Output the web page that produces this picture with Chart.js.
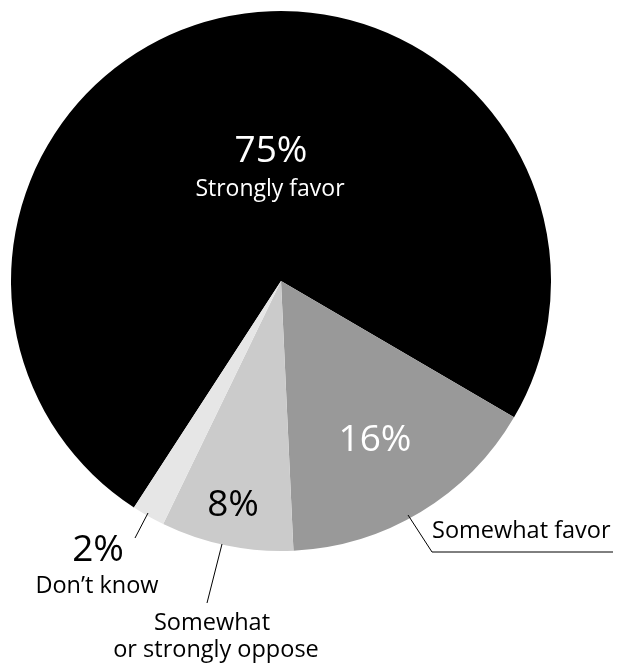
<!DOCTYPE html>
<html>
<head>
<meta charset="utf-8">
<script src="https://cdn.jsdelivr.net/npm/chart.js@4"></script>
<style>
	html, body { margin: 0; padding: 0; background: #fff; }
	#wrap { width: 618px; height: 668px; position: relative; }
</style>
</head>
<body>
<div id="wrap"><canvas id="pieChart" width="618" height="668"></canvas></div>
<script>
// Chart data
const categories = ["Strongly favor", "Somewhat favor", "Somewhat or strongly oppose", "Don’t know"];
const shares = [75, 16, 8, 2];
const sliceColors = ["#000000", "#999999", "#cbcbcb", "#e6e6e6"];

const FONT = "'Open Sans', 'Noto Sans', sans-serif";

// Label layout (text + leader lines), drawn after the pie
const labelLayout = [
	{ lines: [["75%", 37, 271, 151], ["Strongly favor", 23, 270, 189]], color: "#fff" },
	{ lines: [["16%", 37, 375, 440]], color: "#fff" },
	{ lines: [["8%", 37, 233, 505]], color: "#000" },
	{ lines: [["2%", 37, 98, 550], ["Don’t know", 23.5, 97, 586]], color: "#000",
		leader: [[148, 513], [135, 538]] },
	{ lines: [["Somewhat", 23.5, 212, 623], ["or strongly oppose", 23.5, 216, 650]], color: "#000",
		leader: [[222, 544], [207, 603]] },
	{ lines: [["Somewhat favor", 23.5, 432, 531, "left"]], color: "#000",
		leader: [[408, 515], [432, 552], [613, 552]] },
];

const labelPlugin = {
	id: "pieLabels",
	afterDraw(chart) {
		const ctx = chart.ctx;
		ctx.save();
		labelLayout.forEach(function (item) {
			if (item.leader) {
				ctx.beginPath();
				ctx.strokeStyle = "#000";
				ctx.lineWidth = 1;
				item.leader.forEach(function (p, i) {
					if (i === 0) ctx.moveTo(p[0], p[1]);
					else ctx.lineTo(p[0], p[1]);
				});
				ctx.stroke();
			}
			item.lines.forEach(function (l) {
				ctx.font = l[1] + "px " + FONT;
				ctx.fillStyle = item.color;
				ctx.textAlign = l[4] || "center";
				ctx.textBaseline = "middle";
				ctx.fillText(l[0], l[2], l[3]);
			});
		});
		ctx.restore();
	},
};

const ctx = document.getElementById("pieChart").getContext("2d");
new Chart(ctx, {
	type: "pie",
	data: {
		labels: categories,
		datasets: [
			{
				data: shares,
				backgroundColor: sliceColors,
				borderWidth: 0,
			},
		],
	},
	options: {
		responsive: false,
		animation: false,
		rotation: 213,
		layout: {
			padding: { left: 11, top: 11, right: 67, bottom: 117 },
		},
		plugins: {
			legend: { display: false },
			tooltip: { enabled: false },
		},
	},
	plugins: [labelPlugin],
});
</script>
</body>
</html>
